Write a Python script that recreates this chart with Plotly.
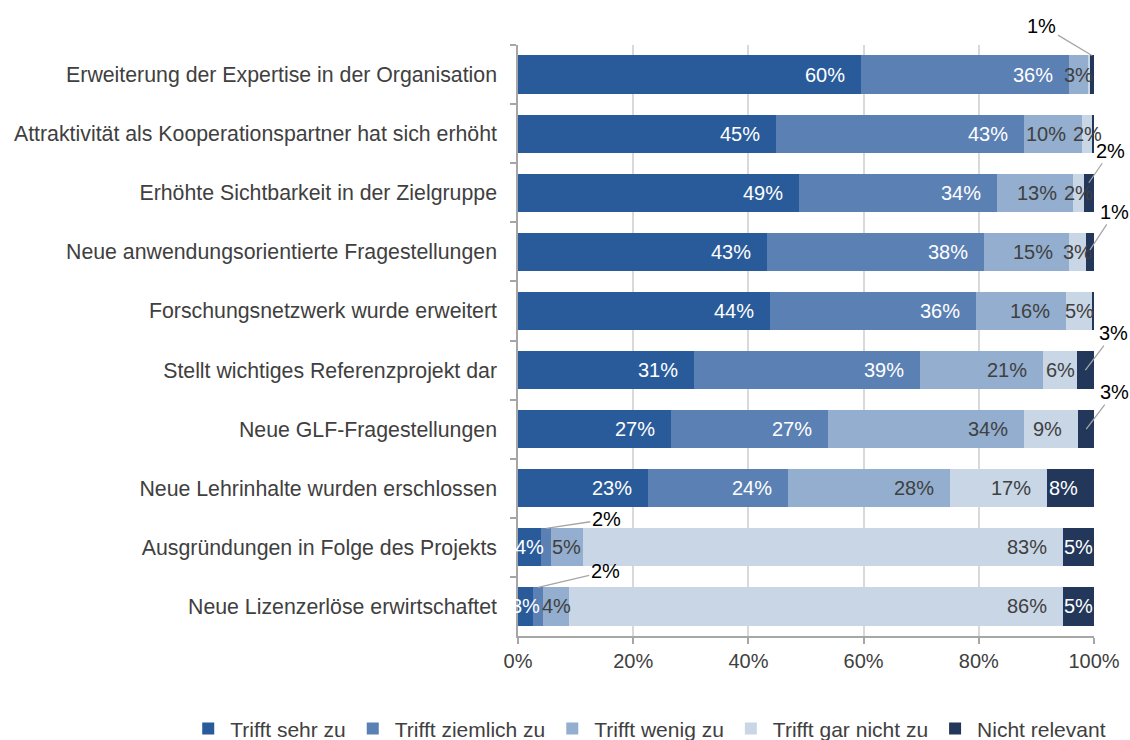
import plotly.graph_objects as go

categories = [
    "Erweiterung der Expertise in der Organisation",
    "Attraktivität als Kooperationspartner hat sich erhöht",
    "Erhöhte Sichtbarkeit in der Zielgruppe",
    "Neue anwendungsorientierte Fragestellungen",
    "Forschungsnetzwerk wurde erweitert",
    "Stellt wichtiges Referenzprojekt dar",
    "Neue GLF-Fragestellungen",
    "Neue Lehrinhalte wurden erschlossen",
    "Ausgründungen in Folge des Projekts",
    "Neue Lizenzerlöse erwirtschaftet",
]
series_names = ["Trifft sehr zu", "Trifft ziemlich zu", "Trifft wenig zu",
                "Trifft gar nicht zu", "Nicht relevant"]
sehr_zu = [59.5, 44.8, 48.8, 43.2, 43.8, 30.6, 26.6, 22.6, 4.0, 2.6]
ziemlich_zu = [36.2, 43.1, 34.3, 37.7, 35.7, 39.2, 27.3, 24.3, 1.8, 1.8]
wenig_zu = [3.2, 10.0, 13.2, 14.7, 15.6, 21.4, 34.0, 28.1, 5.4, 4.4]
gar_nicht_zu = [0.4, 1.9, 1.9, 3.0, 4.6, 5.8, 9.4, 16.8, 83.4, 85.9]
nicht_relevant = [0.7, 0.2, 1.8, 1.4, 0.3, 3.0, 2.7, 8.2, 5.4, 5.3]
x_ticks = [0, 20, 40, 60, 80, 100]
x_tick_labels = ["0%", "20%", "40%", "60%", "80%", "100%"]

series_values = [sehr_zu, ziemlich_zu, wenig_zu, gar_nicht_zu, nicht_relevant]

# styling
colors = ["#295B9B", "#5B80B4", "#93AECE", "#C8D6E6", "#22375A"]
text_colors = ["white", "white", "#404040", "#404040", "white"]
FONT = "Liberation Sans, Arial, sans-serif"
FS = 20

# callouts: (category index, series index, ax, ay, yshift)
callouts = [
    (0, 4, -50, -30, 19),
    (2, 4, 22, -32, 10),
    (3, 4, 25, -38, 2),
    (5, 4, 28, -37, 0),
    (6, 4, 28, -37, 0),
    (8, 1, 60, -9, 19),
    (9, 1, 67, -16, 19),
]
callout_set = {(c[0], c[1]) for c in callouts}

fig = go.Figure()
for name, vals, col in zip(series_names, series_values, colors):
    fig.add_trace(go.Bar(
        y=categories, x=vals, name=name, orientation="h",
        marker=dict(color=col, line=dict(width=0)),
        hoverinfo="x+name",
    ))

# plot geometry for label placement
plot_left, plot_right = 518, 1094
px_per_unit = (plot_right - plot_left) / 100.0

annotations = []
for i, cat in enumerate(categories):
    cum = 0.0
    for s, vals in enumerate(series_values):
        v = vals[i]
        start, end = cum, cum + v
        cum = end
        if v < 1 or (i, s) in callout_set:
            continue
        txt = f"{v:.0f}%"
        w = v * px_per_unit
        tw = 14 * len(txt)
        if w >= tw + 14:
            annotations.append(dict(x=end, y=cat, xref="x", yref="y", text=txt,
                                    showarrow=False, xanchor="right", xshift=-14,
                                    font=dict(family=FONT, size=FS, color=text_colors[s])))
        else:
            annotations.append(dict(x=(start + end) / 2, y=cat, xref="x", yref="y",
                                    text=txt, showarrow=False, xanchor="center",
                                    font=dict(family=FONT, size=FS, color=text_colors[s])))

for (i, s, ax, ay, ysh) in callouts:
    start = sum(series_values[k][i] for k in range(s))
    v = series_values[s][i]
    annotations.append(dict(
        x=start + v / 2, y=categories[i], xref="x", yref="y",
        text=f"{v:.0f}%", showarrow=True, arrowhead=0, arrowwidth=1.3,
        arrowcolor="#A6A6A6", ax=ax, ay=ay, yshift=ysh, standoff=0,
        font=dict(family=FONT, size=FS, color="#000000"),
    ))

fig.update_layout(
    barmode="stack",
    bargap=0.355,
    width=1130, height=740,
    margin=dict(l=518, r=36, t=45, b=104, autoexpand=False),
    paper_bgcolor="white", plot_bgcolor="white",
    font=dict(family=FONT, size=FS, color="#404040"),
    annotations=annotations,
    legend=dict(orientation="h", xref="paper", yref="paper",
                x=-0.576, xanchor="left", y=-0.157, yanchor="middle",
                itemwidth=34,
                font=dict(family=FONT, size=21, color="#404040"),
                traceorder="normal", itemclick=False),
    showlegend=True,
)
fig.update_xaxes(
    range=[0, 100], tickvals=x_ticks, ticktext=x_tick_labels,
    showgrid=True, gridcolor="#D9D9D9", gridwidth=1.5,
    showline=True, linecolor="#A6A6A6", linewidth=1.5,
    ticks="outside", ticklen=6, tickcolor="#A6A6A6", tickwidth=1.5,
    zeroline=False, fixedrange=True, ticklabelstandoff=0,
    tickfont=dict(family=FONT, size=FS, color="#404040"),
)
fig.update_yaxes(
    categoryorder="array", categoryarray=categories,
    range=[len(categories) - 0.5, -0.5], autorange=False,
    showline=True, linecolor="#A6A6A6", linewidth=1.5,
    ticks="outside", ticklen=6, tickcolor="#A6A6A6", tickwidth=1.5,
    tickson="boundaries", showgrid=False, ticklabelstandoff=15,
    tickfont=dict(family=FONT, size=21.3, color="#404040"),
)

fig.write_html("out.html", config={"displayModeBar": False},
               post_script="document.body.style.margin='0';document.body.style.overflow='hidden';")
